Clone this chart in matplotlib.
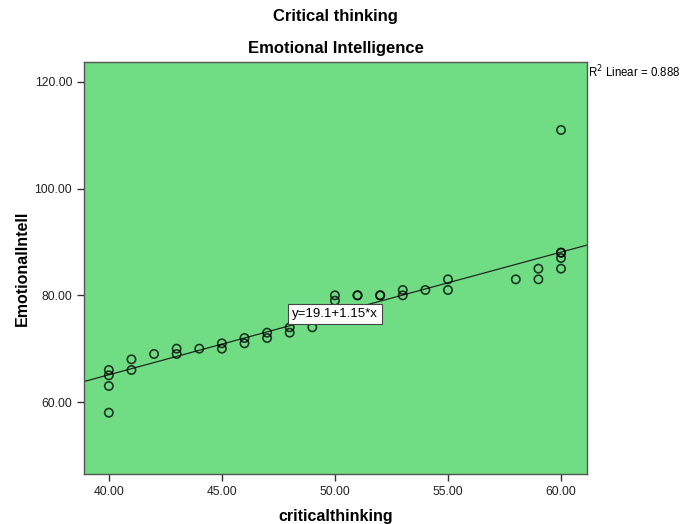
import numpy as np
import matplotlib
matplotlib.use('Agg')
import matplotlib.pyplot as plt

plt.rcParams['font.family'] = ['Liberation Sans', 'DejaVu Sans']

# Data (critical thinking vs emotional intelligence)
critical = [40, 40, 40, 40, 41, 41, 42, 43, 43, 44, 45, 45, 46, 46,
            47, 47, 48, 48, 49, 50, 50, 51, 51, 52, 52, 53, 53, 54,
            55, 55, 58, 59, 59, 60, 60, 60, 60, 60]
emotional = [66, 65, 63, 58, 68, 66, 69, 70, 69, 70, 71, 70, 72, 71,
             73, 72, 74, 73, 74, 80, 79, 80, 80, 80, 80, 81, 80, 81,
             83, 81, 83, 85, 83, 88, 88, 87, 85, 111]

intercept = 19.1
slope = 1.15
r2 = 0.888

xticks = [40, 45, 50, 55, 60]
yticks = [60, 80, 100, 120]

fig = plt.figure(figsize=(6.81, 5.24), dpi=100)
ax = fig.add_axes([0.1233, 0.0954, 0.7387, 0.7863])
ax.set_facecolor('#70DC84')

ax.set_xlim(38.9, 61.15)
ax.set_ylim(46.5, 123.75)

ax.scatter(critical, emotional, s=36, facecolors='none',
           edgecolors='black', linewidths=1.2, alpha=0.75, zorder=3)

xl = np.array(ax.get_xlim())
ax.plot(xl, intercept + slope * xl, color='#1f2a1f', linewidth=0.9, zorder=2)

ax.text(50.0, 76.5, f"y={intercept}+{slope}*x", fontsize=9.5, ha='center',
        va='center', zorder=4,
        bbox=dict(boxstyle='square,pad=0.3', facecolor='white',
                  edgecolor='#444444', linewidth=0.8))

ax.text(1.002, 0.975, f"R$^2$ Linear = {r2}", transform=ax.transAxes,
        fontsize=8.3, ha='left', va='center')

ax.set_xticks(xticks)
ax.set_xticklabels([f"{v:.2f}" for v in xticks])
ax.set_yticks(yticks)
ax.set_yticklabels([f"{v:.2f}" for v in yticks])
ax.tick_params(axis='both', direction='out', length=5, width=1,
               labelsize=8.7, colors='#333333', labelcolor='#222222')

for sp in ax.spines.values():
    sp.set_color('#555555')
    sp.set_linewidth(1)

ax.set_xlabel("criticalthinking", fontsize=11.5, fontweight='bold', labelpad=8)
ax.set_ylabel("EmotionalIntell", fontsize=11.5, fontweight='bold', labelpad=3)

fig.text(0.4926, 0.969, "Critical thinking", fontsize=12, fontweight='bold',
         ha='center', va='center')
fig.text(0.4926, 0.908, "Emotional Intelligence", fontsize=12,
         fontweight='bold', ha='center', va='center')

fig.savefig('out.png', dpi=100, facecolor='white')
plt.close(fig)
